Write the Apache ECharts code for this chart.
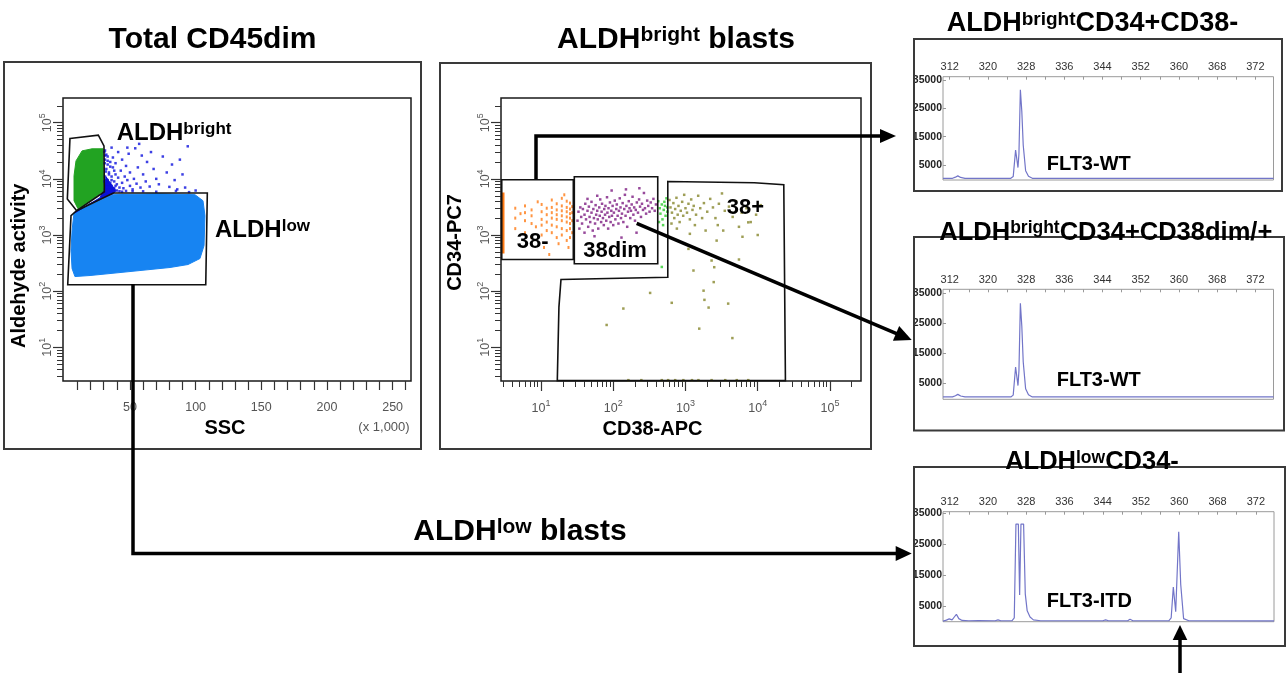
<!DOCTYPE html>
<html lang="en">
<head>
<meta charset="UTF-8">
<title>ALDH bright / low blasts and FLT3</title>
<script src="https://cdn.jsdelivr.net/npm/echarts@6/dist/echarts.min.js"></script>
<style>
  html, body { margin: 0; padding: 0; background: #fff; }
  #chart { width: 1286px; height: 680px; }
</style>
</head>
<body>
<div id="chart"></div>
<script>
// ---------- panel 1 : SSC (x1000) vs aldehyde activity ----------
const blobSsc  = [5.9, 7.4, 19.6, 37.1, 72.9, 99.5, 105.6, 107.1, 106.4, 103.3, 94.2, 80.5, 57.6, 34.8, 19.6, 8.1, 5.9, 5.1];
const blobAldh = [1200, 2500, 3470, 5220, 5430, 5220, 4080, 2210, 649, 381, 298, 264, 233, 206, 190, 182, 253, 528];
const bandSsc  = [8.1, 27.2, 30.2, 31.8, 34.8, 39.4, 37.1, 19.6, 9.7];
const bandAldh = [2500, 4610, 6670, 10900, 8530, 6150, 5430, 3610, 2610];
const greenSsc  = [8.9, 13.5, 21.1, 29.5, 29.9, 19.6, 10.4, 7.4, 7.4];
const greenAldh = [20900, 31500, 34300, 34300, 6150, 4080, 2940, 4080, 11350];
const gateBrightSsc  = [4.3, 25.9, 30.2, 30.5, 9.4, 2.3];
const gateBrightAldh = [52200, 60000, 38700, 5900, 2710, 4370];
const gateLowSsc  = [2.6, 5.1, 9.4, 37.3, 108.9, 107.7];
const gateLowAldh = [130, 2210, 2710, 5600, 5600, 130];
const darkBlueDots = [
  [31,32000],[32,27000],[31,22000],[33,18000],[32,15000],[34,13000],[31,11000],[33,9500],[35,8500],[32,8000],
  [36,7500],[34,7000],[38,6800],[31,6500],[35,6300],[40,6200],[33,25000],[35,20000],[37,16000],[36,11000],
  [38,9000],[40,8000],[42,7000],[39,12000],[41,10500],[44,8500],[45,6800],[37,24000],[39,19000],[43,14000],
  [46,11000],[48,9500],[50,7500],[52,6500],[47,17000],[50,13000],[53,10000],[55,8200],[58,7000],[44,22000],
  [49,28000],[56,16000],[60,12000],[62,9000],[65,7300],[54,35000],[63,20000],[68,15000],[70,10000],[72,8000],
  [75,25000],[78,13000],[82,18000],[84,9500],[88,22000],[90,12000],[94,38000],[66,30000],[59,26000],[80,7200],
  [86,6500],[92,7000],[48,36000],[41,30000],[36,36000],[57,42000],[30.5,30000],[31,26000],[30.8,19000],[31.5,13500],
  [30.6,9000],[32.5,7200],[33.5,5800],[34,12000],[36,9500],[35,16500],[33,21000],[38,14000],[37,6000],[39,7500],
  [42,6000],[44,5900],[47,6100],[52,6000],[60,6000],[70,5900],[85,6100],[95,5800],[100,6200]
];

// ---------- panel 2 : CD38-APC vs CD34-PC7 ----------
const gateNegCd38 = [2.86, 28, 28, 2.86];
const gateNegCd34 = [9640, 9640, 366, 366];
const gateDimCd38 = [28.9, 413, 413, 28.9];
const gateDimCd34 = [10900, 10900, 307, 307];
const gatePosCd38 = [569, 9000, 22960, 24200, 16.8, 17.7, 18.9, 569];
const gatePosCd34 = [9000, 8500, 7850, 2.55, 2.55, 52, 161, 177];
const orangeEdgeCd38 = [3.0, 3.0];
const orangeEdgeCd34 = [470, 5700];
const orangeDots = [
  [4.4,3000],[4.4,2000],[4.4,1300],[6,3300],[6,2500],[6,1800],[6,1100],[7.4,2800],[7.4,2200],[7.4,1600],
  [7.4,900],[10.2,3500],[10.2,2600],[10.2,1900],[10.2,1500],[10.2,1000],[12,3000],[12,2300],[12,1700],[12,1200],
  [14.1,4200],[14.1,3100],[14.1,2500],[14.1,2000],[14.1,1500],[14.1,1100],[16.5,3600],[16.5,2800],[16.5,2300],[16.5,1900],
  [16.5,1400],[16.5,900],[19.4,4500],[19.4,3300],[19.4,2700],[19.4,2200],[19.4,1800],[19.4,1300],[19.4,1000],[22.7,4000],
  [22.7,3100],[22.7,2600],[22.7,2100],[22.7,1700],[22.7,1200],[22.7,800],[25.2,3700],[25.2,2900],[25.2,2400],[25.2,2000],
  [25.2,1600],[25.2,1300],[25.2,900],[27,3200],[27,2500],[27,1800],[27,1100],[8.5,1400],[5.2,2400],[11,600],
  [13,450],[9,3900],[17.5,700],[21,5200],[24,600]
];
const purpleDots = [
  [32,1800],[33,2600],[34,1300],[35,3100],[36,2100],[37,1600],[38,2900],[40,1100],[40,2300],[41,3600],
  [42,1900],[44,2700],[45,1400],[46,3200],[47,2100],[48,1700],[50,2500],[50,3900],[52,1200],[53,2900],
  [54,2000],[56,1600],[57,3400],[58,2300],[60,2700],[61,1900],[62,1300],[64,3100],[65,2200],[66,4300],
  [68,1700],[69,2600],[70,3600],[72,2000],[74,1500],[75,2900],[77,2300],[78,3300],[80,1800],[82,4700],
  [83,2500],[85,1300],[86,3000],[88,2100],[90,3800],[92,1700],[94,2700],[96,2200],[98,3300],[100,1500],
  [102,2500],[105,4100],[107,1900],[110,2900],[112,3500],[115,2200],[118,1600],[120,2700],[123,4500],[126,3100],
  [128,2000],[132,2400],[135,3700],[138,1700],[142,2900],[145,5200],[148,2200],[152,3300],[156,1400],[160,2600],
  [164,4000],[168,3000],[172,2000],[176,2700],[180,3500],[185,4800],[190,2300],[195,3100],[200,1800],[205,2800],
  [212,3800],[220,2500],[228,4300],[235,3200],[242,2100],[250,3600],[258,2800],[266,5600],[275,3000],[285,2400],
  [295,4100],[305,3300],[318,2600],[330,3800],[345,3000],[360,4400],[375,2700],[390,3500],[60,5000],[95,6200],
  [130,900],[55,950],[210,1100],[44,4400],[150,6500],[230,6800]
];
const greenDots = [
  [420,4000],[440,3000],[450,2400],[470,3500],[480,1900],[500,2800],[520,3300],[530,2200],[545,4500],[560,2600],
  [490,1500],[430,1700],[510,3900],[560,3100],[470,270]
];
const oliveDots = [
  [600,4200],[620,3100],[650,2500],[680,3700],[700,2000],[720,2900],[750,4600],[780,2300],[800,3300],[830,1700],
  [860,2700],[900,3900],[930,2200],[960,5200],[1000,3000],[1050,2500],[1100,3600],[1150,1900],[1200,4300],[1250,2800],
  [1300,3300],[1400,2300],[1500,5000],[1600,3000],[1700,2000],[1800,3700],[2000,2600],[2200,4400],[2400,3100],[2600,2000],
  [2900,3600],[3200,5500],[3500,2700],[4000,3200],[4500,2100],[5000,4000],[6000,2500],[7000,3000],[8000,1700],[9500,2300],
  [11000,3400],[640,1600],[760,1300],[1350,1500],[1900,1200],[2800,1500],[5500,1400],[10000,1000],
  [1100,566],[1290,233],[2500,267],[2460,145],[1780,102],[1830,70],[2090,51],[3900,60],[645,62],[324,93],
  [138,49],[81,25],[1550,21.5],[4460,14.6],[5500,366],[3330,1200],[6150,930],[7400,1680],[2700,795],[1150,1050],
  [2300,351],[162,2.6],[245,2.6],[470,2.6],[575,2.6],[720,2.6],[935,2.6],[1230,2.6],[1510,2.6],[2300,2.6],
  [3550,2.6],[5130,2.6],[7400,2.6]
];

// ---------- capillary traces (fragment size bp vs fluorescence) ----------
const bpTicks = [312, 320, 328, 336, 344, 352, 360, 368, 376];
const bpTickLabels = ['312', '320', '328', '336', '344', '352', '360', '368', '372'];
const signalTicks = [5000, 15000, 25000, 35000];
const wtBp     = [310.6, 312.6, 313.2, 313.7, 314.3, 315.2, 324.8, 325.3, 325.8, 326.3, 326.5, 326.8, 327.1, 327.4, 327.9, 328.5, 329.3, 379.8];
const wtSignal = [300, 300, 700, 1150, 600, 300, 300, 900, 10300, 4100, 9000, 31600, 24000, 12000, 3000, 1000, 300, 300];
const itdBp     = [310.6, 311.3, 311.9, 312.5, 313.0, 313.4, 313.9, 314.6, 316, 318, 321.5, 322.1, 322.7, 325.0, 325.5,
                   325.85, 326.35, 326.62, 326.9, 327.45, 327.8, 328.2, 328.8, 329.5, 331, 344, 344.6, 345.2, 349.2, 349.7,
                   350.3, 357.8, 358.3, 358.75, 359.25, 359.88, 360.3, 360.9, 362, 379.8];
const itdSignal = [200, 500, 900, 600, 1600, 2400, 1000, 400, 300, 350, 300, 600, 300, 300, 1200,
                   31500, 31500, 8600, 31500, 31500, 9000, 3500, 1500, 600, 300, 300, 600, 300, 300, 800,
                   300, 300, 1200, 11200, 3200, 29000, 12000, 1000, 300, 250];

// ---------- helpers ----------
const FONT = "'Liberation Sans', Arial, sans-serif";
const lg = v => Math.log10(v);

function minorLogTicks(lo, hi) {
  const out = [];
  for (let n = Math.floor(lo); n <= Math.ceil(hi); n++) {
    for (let k = 2; k <= 9; k++) {
      const t = n + Math.log10(k);
      if (t >= lo && t <= hi) out.push(t);
    }
  }
  return out;
}
function range(a, b, step) { const out = []; for (let v = a; v <= b; v += step) out.push(v); return out; }

const powRich = {
  b: { fontSize: 12.5, color: '#555', fontFamily: FONT, lineHeight: 16, verticalAlign: 'bottom' },
  s: { fontSize: 9, color: '#555', fontFamily: FONT, lineHeight: 10, verticalAlign: 'top' }
};
const powFmt = v => '{b|10}{s|' + Math.round(v) + '}';

function logAxis(grid, pos, min, max, major) {
  const base = {
    type: 'value', gridIndex: grid, position: pos, min: min, max: max,
    axisLine: { show: false, onZero: false }, splitLine: { show: false }
  };
  if (major) {
    base.axisTick = { show: true, customValues: [1, 2, 3, 4, 5], length: 10, lineStyle: { color: '#333', width: 1.2 } };
    base.axisLabel = { show: true, customValues: [1, 2, 3, 4, 5], formatter: powFmt, rich: powRich,
      rotate: pos === 'left' ? 90 : 0, margin: pos === 'left' ? 9 : 18 };
  } else {
    base.axisTick = { show: true, customValues: minorLogTicks(min, max), length: 6, lineStyle: { color: '#333', width: 1 } };
    base.axisLabel = { show: false };
  }
  return base;
}

function traceXAxis(grid) {
  return {
    type: 'value', gridIndex: grid, position: 'top', min: 310.6, max: 379.8,
    axisLine: { show: false, onZero: false }, splitLine: { show: false },
    axisTick: { show: true, inside: true, length: 3, customValues: range(312, 376, 4), lineStyle: { color: '#999' } },
    axisLabel: { show: true, customValues: bpTicks, margin: 4, fontSize: 11, color: '#333', fontFamily: FONT,
      formatter: v => bpTickLabels[bpTicks.indexOf(Math.round(v))] }
  };
}
function traceYAxis(grid, min, max) {
  return {
    type: 'value', gridIndex: grid, position: 'left', min: min, max: max,
    axisLine: { show: false, onZero: false }, splitLine: { show: false },
    axisTick: { show: true, inside: true, length: 3, customValues: signalTicks, lineStyle: { color: '#999' } },
    axisLabel: { show: true, customValues: signalTicks, margin: 1, fontSize: 10.5, fontWeight: 'bold', color: '#222', fontFamily: FONT,
      formatter: v => String(Math.round(v)) }
  };
}

function polygonSeries(xi, yi, xs, ys, logX, style) {
  return {
    type: 'custom', xAxisIndex: xi, yAxisIndex: yi, silent: true, z: style.fill === 'none' ? 5 : 2,
    data: [[logX ? lg(xs[0]) : xs[0], lg(ys[0])]],
    renderItem: (params, api) => ({
      type: 'polygon',
      shape: { points: xs.map((x, i) => api.coord([logX ? lg(x) : x, lg(ys[i])])) },
      style: style
    })
  };
}
function dotSeries(xi, yi, pts, logX, color, size) {
  return {
    type: 'scatter', xAxisIndex: xi, yAxisIndex: yi, silent: true, z: 3,
    symbol: 'rect', symbolSize: size, itemStyle: { color: color },
    data: pts.map(p => [logX ? lg(p[0]) : p[0], lg(p[1])])
  };
}
function traceSeries(xi, yi, bp, sig) {
  return {
    type: 'line', xAxisIndex: xi, yAxisIndex: yi, silent: true, symbol: 'none',
    lineStyle: { color: '#7275c8', width: 1.2 },
    data: bp.map((b, i) => [b, sig[i]])
  };
}
const gateStyle = { fill: 'none', stroke: '#111', lineWidth: 1.6 };

// bold text with superscript pieces laid out one after another; y is the cap centre
const measureCtx = document.createElement('canvas').getContext('2d');
function textWidth(t, size) { measureCtx.font = 'bold ' + size + 'px ' + FONT; return measureCtx.measureText(t).width; }
function supLabel(x, y, pieces, size, supSize, align) {
  const sizes = pieces.map((p, i) => (i % 2 ? supSize : size));
  const widths = pieces.map((p, i) => textWidth(p, sizes[i]));
  const total = widths.reduce((a, b) => a + b, 0);
  let cx = align === 'left' ? x : x - total / 2;
  const out = [];
  pieces.forEach((p, i) => {
    const sup = i % 2 === 1;
    out.push({
      type: 'text', x: cx, y: sup ? y + 0.35 * (size - supSize) - 0.27 * size : y, z: 50,
      style: { text: p, align: 'left', verticalAlign: 'middle', fill: '#000', font: 'bold ' + sizes[i] + 'px ' + FONT }
    });
    cx += widths[i];
  });
  return out;
}
function plainText(x, y, text, size, opts) {
  opts = opts || {};
  return {
    type: 'text', x: x, y: y, z: 50, rotation: opts.rotation || 0,
    style: { text: text, align: opts.align || 'center', verticalAlign: 'middle', fill: opts.color || '#000',
      font: (opts.weight || 'bold') + ' ' + size + 'px ' + FONT }
  };
}
function frame(x, y, w, h) {
  return { type: 'rect', z: 1, shape: { x: x, y: y, width: w, height: h }, style: { fill: 'none', stroke: '#3a3a3a', lineWidth: 2 } };
}
function arrowHead(tx, ty, dx, dy, len, half) {
  const bx = tx - dx * len, by = ty - dy * len;
  return { type: 'polygon', z: 100, shape: { points: [[tx, ty], [bx - dy * half, by + dx * half], [bx + dy * half, by - dx * half]] }, style: { fill: '#000' } };
}
function shaft(points, w) {
  return { type: 'polyline', z: 100, shape: { points: points }, style: { stroke: '#000', lineWidth: w || 3.5, fill: 'none' } };
}

// diagonal arrow from the 38dim population to the second trace
const a2from = [636.7, 223.3], a2tip = [911.7, 340];
const a2len = Math.hypot(a2tip[0] - a2from[0], a2tip[1] - a2from[1]);
const a2dx = (a2tip[0] - a2from[0]) / a2len, a2dy = (a2tip[1] - a2from[1]) / a2len;

const chart = echarts.init(document.getElementById('chart'), null, { renderer: 'canvas' });

const option = {
  animation: false,
  backgroundColor: '#fff',
  grid: [
    { left: 63, top: 98, width: 348, height: 283, show: true, borderColor: '#1a1a1a', borderWidth: 1.5, outerBoundsMode: 'none' },
    { left: 501, top: 98, width: 360, height: 283, show: true, borderColor: '#1a1a1a', borderWidth: 1.5, outerBoundsMode: 'none' },
    { left: 943, top: 76.7, width: 330.5, height: 103.3, show: true, borderColor: '#9a9a9a', borderWidth: 1, outerBoundsMode: 'none' },
    { left: 943, top: 289.3, width: 330.5, height: 110, show: true, borderColor: '#9a9a9a', borderWidth: 1, outerBoundsMode: 'none' },
    { left: 943, top: 511.7, width: 331, height: 110, show: true, borderColor: '#9a9a9a', borderWidth: 1, outerBoundsMode: 'none' }
  ],
  xAxis: [
    {
      type: 'value', gridIndex: 0, position: 'bottom', min: -1, max: 264,
      axisLine: { show: false, onZero: false }, splitLine: { show: false },
      axisTick: { show: true, customValues: range(10, 260, 10), length: 9, lineStyle: { color: '#333', width: 1.2 } },
      axisLabel: { show: true, customValues: [50, 100, 150, 200, 250], margin: 20, fontSize: 12.5, color: '#555', fontFamily: FONT }
    },
    logAxis(1, 'bottom', 0.446, 5.43, true),
    logAxis(1, 'bottom', 0.446, 5.43, false),
    traceXAxis(2),
    traceXAxis(3),
    traceXAxis(4)
  ],
  yAxis: [
    logAxis(0, 'left', 0.4, 5.44, true),
    logAxis(0, 'left', 0.4, 5.44, false),
    logAxis(1, 'left', 0.4, 5.44, true),
    logAxis(1, 'left', 0.4, 5.44, false),
    traceYAxis(2, -300, 36200),
    traceYAxis(3, -500, 36300),
    traceYAxis(4, 0, 35500)
  ],
  series: [
    // panel 1
    polygonSeries(0, 0, blobSsc, blobAldh, false, { fill: '#1784f2', stroke: '#1784f2', lineWidth: 1 }),
    polygonSeries(0, 0, bandSsc, bandAldh, false, { fill: '#0a12d6', stroke: '#0a12d6', lineWidth: 1 }),
    polygonSeries(0, 0, greenSsc, greenAldh, false, { fill: '#22a322', stroke: '#22a322', lineWidth: 1 }),
    dotSeries(0, 0, darkBlueDots, false, '#0c10dd', 2.5),
    polygonSeries(0, 0, gateBrightSsc, gateBrightAldh, false, gateStyle),
    polygonSeries(0, 0, gateLowSsc, gateLowAldh, false, gateStyle),
    // panel 2
    {
      type: 'line', xAxisIndex: 1, yAxisIndex: 2, silent: true, symbol: 'none', z: 3,
      lineStyle: { color: '#ff7a14', width: 2.5 },
      data: orangeEdgeCd38.map((x, i) => [lg(x), lg(orangeEdgeCd34[i])])
    },
    dotSeries(1, 2, orangeDots, true, '#ff7a14', [2, 3]),
    dotSeries(1, 2, purpleDots, true, '#7d1d82', 2.5),
    dotSeries(1, 2, greenDots, true, '#2ecc2e', 2.5),
    dotSeries(1, 2, oliveDots, true, '#86862c', 2.5),
    polygonSeries(1, 2, gateNegCd38, gateNegCd34, true, gateStyle),
    polygonSeries(1, 2, gateDimCd38, gateDimCd34, true, gateStyle),
    polygonSeries(1, 2, gatePosCd38, gatePosCd34, true, gateStyle),
    // traces
    traceSeries(3, 4, wtBp, wtSignal),
    traceSeries(4, 5, wtBp, wtSignal),
    traceSeries(5, 6, itdBp, itdSignal)
  ],
  graphic: [
    frame(4, 62, 417, 387),
    frame(440, 63, 431, 386),
    frame(914, 39, 368, 152),
    frame(914, 237, 370, 193.5),
    frame(914, 467, 371, 179),

    plainText(212.5, 40, 'Total CD45dim', 30),
    ...supLabel(676, 40, ['ALDH', 'bright', ' blasts'], 30, 21),
    ...supLabel(1092.5, 24, ['ALDH', 'bright', 'CD34+CD38-'], 27, 19),
    ...supLabel(1105.8, 232.5, ['ALDH', 'bright', 'CD34+CD38dim/+'], 25.5, 17.5),
    ...supLabel(1092, 462, ['ALDH', 'low', 'CD34-'], 25.5, 17.5),
    ...supLabel(520, 532, ['ALDH', 'low', ' blasts'], 30, 21),

    plainText(19.3, 265.8, 'Aldehyde activity', 20, { rotation: Math.PI / 2 }),
    plainText(225, 428, 'SSC', 20),
    plainText(384, 427, '(x 1,000)', 13, { weight: 'normal', color: '#555' }),
    plainText(455.5, 242.5, 'CD34-PC7', 20, { rotation: Math.PI / 2 }),
    plainText(652.5, 429.3, 'CD38-APC', 20),

    ...supLabel(116.7, 133.8, ['ALDH', 'bright'], 24, 17, 'left'),
    ...supLabel(215, 230.5, ['ALDH', 'low'], 24, 17, 'left'),
    plainText(516.7, 242, '38-', 22, { align: 'left' }),
    plainText(583.3, 250.5, '38dim', 22, { align: 'left' }),
    plainText(726.7, 208.3, '38+', 22, { align: 'left' }),
    plainText(1046.7, 164, 'FLT3-WT', 20, { align: 'left' }),
    plainText(1056.7, 380, 'FLT3-WT', 20, { align: 'left' }),
    plainText(1046.7, 601.7, 'FLT3-ITD', 20, { align: 'left' }),

    shaft([[536, 179], [536, 136], [884, 136]]),
    arrowHead(896, 136, 1, 0, 16, 7),
    shaft([a2from, [a2tip[0] - a2dx * 12, a2tip[1] - a2dy * 12]], 3.5),
    arrowHead(a2tip[0], a2tip[1], a2dx, a2dy, 17, 8),
    shaft([[133, 284.3], [133, 553.5], [898, 553.5]]),
    arrowHead(911.7, 553.5, 1, 0, 16, 7.5),
    shaft([[1180, 673], [1180, 636]], 3.5),
    arrowHead(1180, 625, 0, -1, 15, 7.3)
  ]
};

chart.setOption(option);
</script>
</body>
</html>
